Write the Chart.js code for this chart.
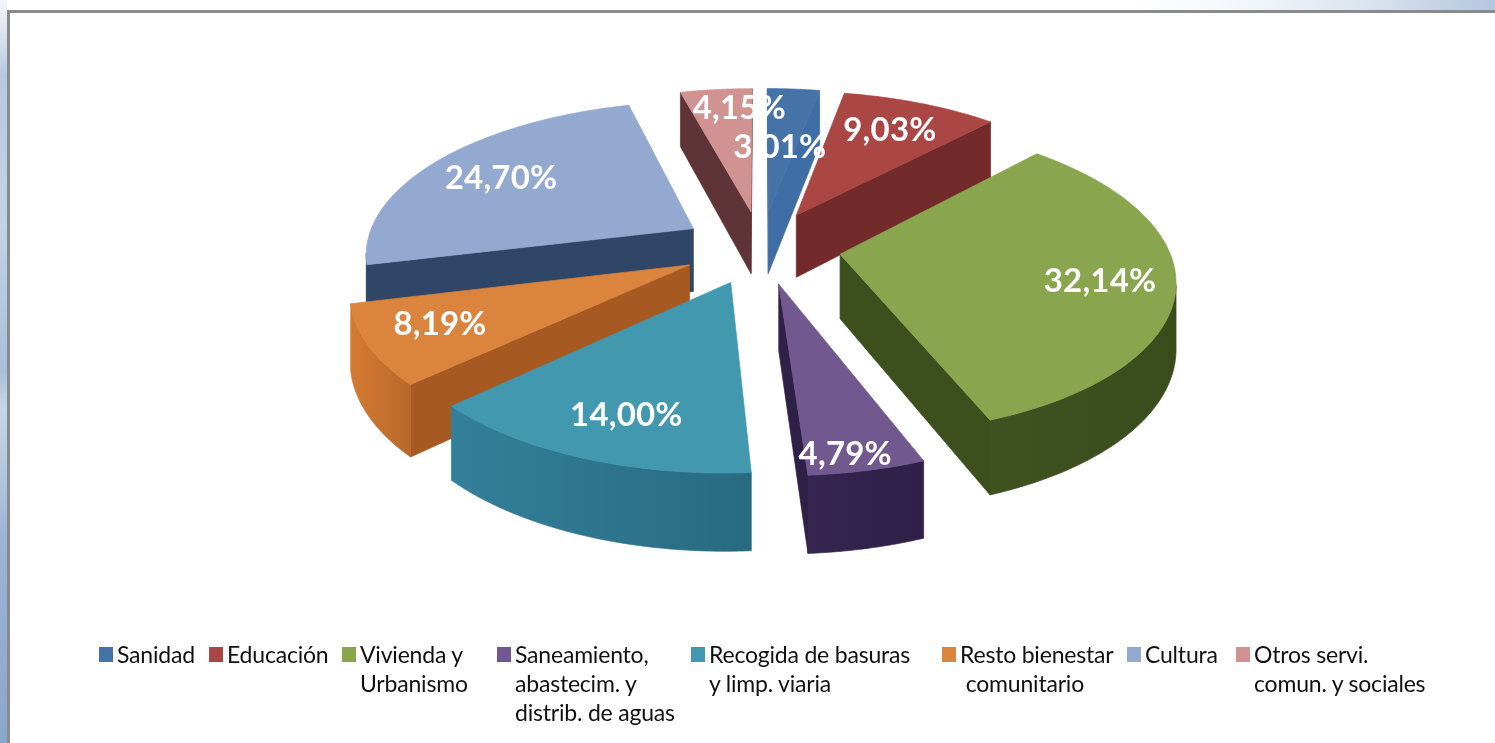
<!DOCTYPE html>
<html lang="es">
<head>
<meta charset="utf-8">
<title>Gasto por áreas</title>
<script src="https://cdn.jsdelivr.net/npm/chart.js@4"></script>
<style>
    html, body { margin: 0; padding: 0; width: 1495px; height: 743px; overflow: hidden; background: #fff; }
    #stripTop { position: absolute; left: 0; top: 0; width: 1495px; height: 10px;
        background: linear-gradient(90deg, #fff 0%, #fff 76%, #f2f5f9 84%, #d9e2ee 92%, #b3c7de 100%); }
    #stripLeft { position: absolute; left: 0; top: 0; width: 7px; height: 743px;
        background: linear-gradient(180deg, #f4f6fa 0%, #dfe6f0 4%, #b7c8e0 10%, #c3d2e6 30%, #a9bfdb 50%, #c9d6e6 55%, #9db5d4 72%, #8aa6cb 100%); }
    #panel { position: absolute; left: 7px; top: 10px; width: 1488px; height: 733px; box-sizing: border-box;
        background: #fff; border-left: 3px solid #8a8a8a; border-top: 3px solid #8a8a8a; }
    #chartBox { position: absolute; left: 0; top: 0; width: 1495px; height: 743px; }
    #legend { position: absolute; left: 0; top: 0; font-family: Lato, sans-serif; font-size: 23px; line-height: 29px; color: #111; }
    .item { position: absolute; top: 640px; white-space: pre; padding-left: 18px; letter-spacing: -0.2px; }
    .item i { position: absolute; left: 0; top: 7px; width: 14px; height: 15px; }
</style>
</head>
<body>
<div id="stripTop"></div>
<div id="stripLeft"></div>
<div id="panel"></div>
<div id="chartBox"><canvas id="gastoChart" width="1495" height="743"></canvas></div>
<div id="legend"></div>
<script>
const categories = ['Sanidad', 'Educación', 'Vivienda y Urbanismo', 'Saneamiento, abastecim. y distrib. de aguas',
    'Recogida de basuras y limp. viaria', 'Resto bienestar comunitario', 'Cultura', 'Otros servi. comun. y sociales'];
const legendLines = [['Sanidad'], ['Educación'], ['Vivienda y', 'Urbanismo'], ['Saneamiento,', 'abastecim. y', 'distrib. de aguas'],
    ['Recogida de basuras', 'y limp. viaria'], ['Resto bienestar', ' comunitario'], ['Cultura'], ['Otros servi.', 'comun. y sociales']];
const shares = [3.01, 9.03, 32.14, 4.79, 14.00, 8.19, 24.70, 4.15];

const topColors = ['#4572A7', '#AA4643', '#89A54E', '#71588F', '#4198AF', '#DB843D', '#93A9CF', '#D19392'];
const wallColors = ['#3f6ea6', '#7a2c2c', '#3f5220', '#352550', '#33809a', '#d47a32', '#2f4666', '#5a3438'];
const wallEndColors = ['#3f6ea6', '#7a2c2c', '#3a4c1c', '#2e2047', '#296a80', '#b8682a', '#2f4666', '#5a3438'];
const faceColors = ['#3f6ea6', '#722a2a', '#3c4f1c', '#2e2047', '#2b6c82', '#a65a22', '#2f4666', '#5e3438'];
const legendLeft = [99, 209, 342, 497, 691, 942, 1127, 1236];
const labelNudge = [[-5, 16], [13, -12], [54, 8], [15, 62], [-17, 31], [-56, 11], [-31, -6], [11, -24]];

// formato 3D: proyecta las porciones que calcula Chart.js
const pie3d = {
    id: 'pie3d',
    beforeDatasetsDraw(chart, args, opts) {
        const ctx = chart.ctx;
        const arcs = chart.getDatasetMeta(0).data;
        const cx = arcs[0].x, cy = arcs[0].y;
        const project = (x, y, z) => {
            const s = 1 / (1 - opts.persp * y);
            return [cx + x * s, cy + opts.tilt * y * s + z * s];
        };
        const fillPoly = (pts, color) => {
            ctx.beginPath();
            pts.forEach((p, i) => (i ? ctx.lineTo(p[0], p[1]) : ctx.moveTo(p[0], p[1])));
            ctx.closePath();
            ctx.fillStyle = color;
            ctx.strokeStyle = color;
            ctx.lineWidth = 0.7;
            ctx.fill();
            ctx.stroke();
        };
        const facing = (a, b, c) => (b[0] - a[0]) * (c[1] - a[1]) - (b[1] - a[1]) * (c[0] - a[0]);

        // de atrás hacia delante
        const order = arcs.map((arc, i) => i).sort((p, q) => {
            const mid = (arc) => Math.sin((arc.startAngle + arc.endAngle) / 2);
            return mid(arcs[p]) - mid(arcs[q]);
        });

        order.forEach((i) => {
            const arc = arcs[i];
            const mid = (arc.startAngle + arc.endAngle) / 2;
            const ox = Math.cos(mid) * arc.options.offset, oy = Math.sin(mid) * arc.options.offset;
            const R = arc.outerRadius;
            const steps = 60;
            const rim = [];
            for (let k = 0; k <= steps; k++) {
                const a = arc.startAngle + (arc.endAngle - arc.startAngle) * k / steps;
                rim.push([ox + Math.cos(a) * R, oy + Math.sin(a) * R]);
            }
            const tip = [ox, oy];
            const up = (p) => project(p[0], p[1], 0);
            const down = (p) => project(p[0], p[1], opts.depth);

            // caras radiales
            [[tip, rim[0]], [rim[steps], tip]].forEach(([p, q]) => {
                const quad = [up(p), up(q), down(q), down(p)];
                if (facing(quad[0], quad[1], quad[2]) < 0) {
                    fillPoly(quad, faceColors[i]);
                }
            });
            // pared exterior: solo los tramos visibles, en un solo trazo
            const seen = [];
            for (let k = 0; k < steps; k++) {
                if (facing(up(rim[k]), up(rim[k + 1]), down(rim[k + 1])) < 0) {
                    if (!seen.length) seen.push(rim[k]);
                    seen.push(rim[k + 1]);
                }
            }
            if (seen.length) {
                const wall = [...seen.map(up), ...seen.slice().reverse().map(down)];
                const xs = wall.map((p) => p[0]);
                const shade = ctx.createLinearGradient(Math.min(...xs), 0, Math.max(...xs), 0);
                shade.addColorStop(0, wallColors[i]);
                shade.addColorStop(1, wallEndColors[i]);
                fillPoly(wall, shade);
            }
            // cara superior
            fillPoly([up(tip), ...rim.map(up)], topColors[i]);
        });

        // etiquetas
        ctx.font = opts.labelFont;
        ctx.letterSpacing = opts.labelSpacing;
        ctx.fillStyle = '#fff';
        ctx.textAlign = 'center';
        ctx.textBaseline = 'middle';
        arcs.forEach((arc, i) => {
            const mid = (arc.startAngle + arc.endAngle) / 2;
            const dist = arc.options.offset + arc.outerRadius * opts.labelAt;
            const p = project(Math.cos(mid) * dist, Math.sin(mid) * dist, 0);
            ctx.fillText(shares[i].toFixed(2).replace('.', ',') + '%', p[0] + labelNudge[i][0], p[1] + labelNudge[i][1]);
        });
        ctx.letterSpacing = '0px';
        return false;
    },
};

const gastoChart = new Chart(document.getElementById('gastoChart'), {
    type: 'pie',
    data: {
        labels: categories,
        datasets: [{
            data: shares,
            backgroundColor: topColors,
            offset: 80,
            borderWidth: 0,
        }],
    },
    options: {
        responsive: false,
        animation: false,
        radius: 328,
        layout: { padding: { left: 27, bottom: 249 } },
        plugins: {
            legend: { display: false },
            tooltip: { enabled: false },
            pie3d: { persp: 0.00045, tilt: 0.46, depth: 64, labelAt: 0.62, labelFont: 'bold 33px Lato, sans-serif', labelSpacing: '0.2px' },
        },
    },
    plugins: [pie3d],
});

// leyenda en HTML
const legendBox = document.getElementById('legend');
legendLines.forEach((lines, i) => {
    const item = document.createElement('div');
    item.className = 'item';
    item.style.left = legendLeft[i] + 'px';
    const swatch = document.createElement('i');
    swatch.style.background = topColors[i];
    item.appendChild(swatch);
    item.appendChild(document.createTextNode(lines.join('\n')));
    legendBox.appendChild(item);
});
</script>
</body>
</html>
